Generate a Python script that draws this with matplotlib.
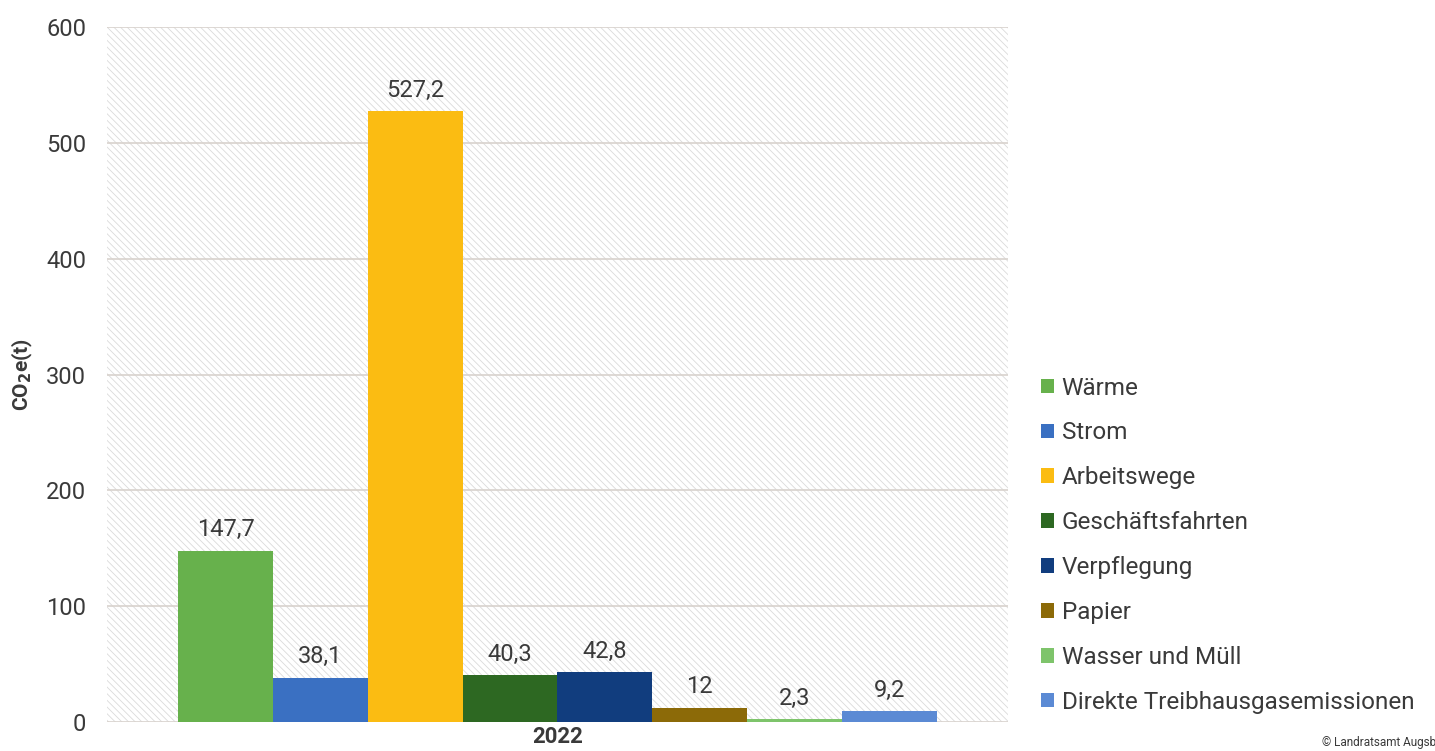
import numpy as np
import matplotlib.pyplot as plt
from matplotlib.patches import Rectangle

# data
categories = ["Wärme", "Strom", "Arbeitswege", "Geschäftsfahrten", "Verpflegung",
              "Papier", "Wasser und Müll", "Direkte Treibhausgasemissionen"]
values = [147.7, 38.1, 527.2, 40.3, 42.8, 12, 2.3, 9.2]
value_labels = ["147,7", "38,1", "527,2", "40,3", "42,8", "12", "2,3", "9,2"]
colors = ["#67b14c", "#3a70c2", "#fbbc12", "#2d6822", "#113d7e",
          "#8c6a08", "#7ec46b", "#5b8ad4"]
year = "2022"
yticks = [0, 100, 200, 300, 400, 500, 600]

plt.rcParams['font.family'] = ['Roboto', 'DejaVu Sans']
plt.rcParams['hatch.linewidth'] = 0.6
text_col = "#3a3a3a"

fig = plt.figure(figsize=(14.35, 7.51), dpi=100)
ax = fig.add_axes([0.0746, 0.0386, 0.6278, 0.9254])

# hatched background (fine diagonal texture)
bg = Rectangle((0, 0), 1, 1, transform=ax.transAxes, facecolor="white",
               edgecolor="#dadada", hatch="\\\\\\\\\\", linewidth=0, zorder=0)
ax.add_patch(bg)

x = np.arange(len(categories))
bars = ax.bar(x, values, width=1.0, color=colors, label=categories, zorder=3)

for xi, v, lab in zip(x, values, value_labels):
    ax.annotate(lab, (xi, v), xytext=(0, 7), textcoords="offset points",
                ha="center", va="bottom", fontsize=17, color=text_col)

ax.set_xlim(-1.248, 8.248)
ax.set_ylim(0, 600)
ax.set_yticks(yticks)
ax.set_yticklabels([str(t) for t in yticks], fontsize=17, color=text_col)
ax.set_xticks([3.5])
ax.set_xticklabels([year], fontsize=16, fontweight="bold", color=text_col)
ax.tick_params(length=0, pad=15)
ax.tick_params(axis="x", pad=3)
ax.grid(axis="y", color="#d8d2cd", linewidth=1.2, zorder=1)
ax.set_axisbelow(True)
for s in ax.spines.values():
    s.set_visible(False)

ax.set_ylabel("CO$_\\mathbf{2}$e(t)", fontsize=15, fontweight="bold", color=text_col, labelpad=8)

leg = fig.legend(bars, categories, loc="lower left", bbox_to_anchor=(0.7135, 0.027),
                 frameon=False, fontsize=17.5, labelcolor=text_col,
                 handlelength=0.55, handleheight=0.55, handletextpad=0.3,
                 labelspacing=0.9, borderpad=0.2)

fig.text(0.921, 0.002, "© Landratsamt Augsburg", fontsize=8.5, color=text_col,
         ha="left", va="bottom")

fig.savefig("out.png", dpi=100)
